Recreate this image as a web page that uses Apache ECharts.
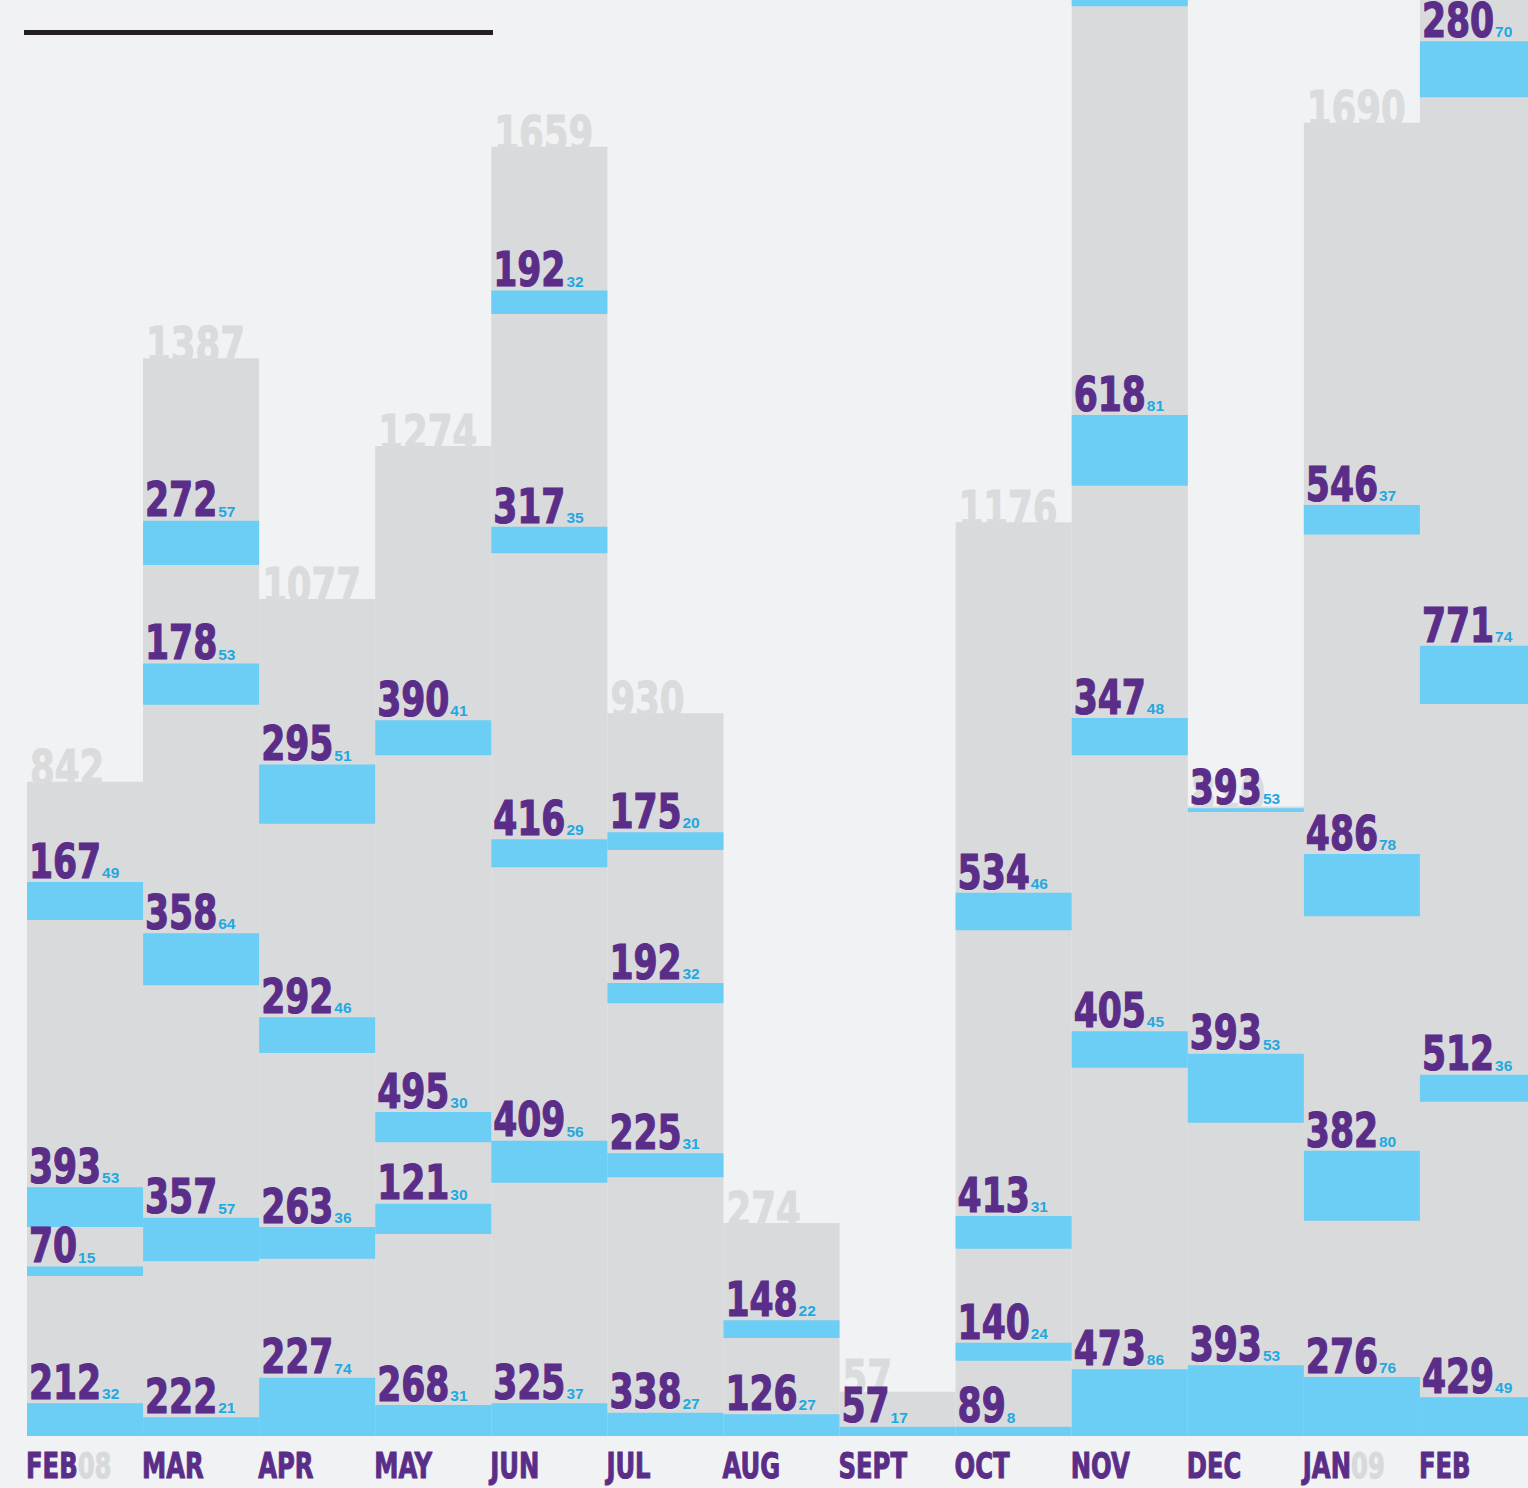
<!DOCTYPE html>
<html>
<head>
<meta charset="utf-8">
<script src="https://cdn.jsdelivr.net/npm/echarts@6/dist/echarts.min.js"></script>
<style>
html,body{margin:0;padding:0;background:#f1f2f4;}
#c{width:1528px;height:1488px;}
</style>
</head>
<body>
<div id="c"></div>
<script>
// ---------------- DATA ----------------
const months   = ['FEB','MAR','APR','MAY','JUN','JUL','AUG','SEPT','OCT','NOV','DEC','JAN','FEB'];
const yearTags = ['08','','','','','','','','','','','09',''];
// column totals (grey bars); NOV and FEB09 run off the top of the picture (estimated)
const totals   = [842,1387,1077,1274,1659,930,274,57,1176,1950,810,1690,2100];
const totalVisible = [true,true,true,true,true,true,true,true,true,false,true,true,false];

// segment values (big purple numbers), bottom to top
const segValues = [
  [212,70,393,167],
  [222,357,358,178,272],
  [227,263,292,295],
  [268,121,495,390],
  [325,409,416,317,192],
  [338,225,192,175],
  [126,148],
  [57],
  [89,140,413,534],
  [473,405,347,618,null],
  [393,393,393],
  [276,382,486,546],
  [429,512,771,280]
];
// small blue numbers
const segSmall = [
  [32,15,53,49],
  [21,57,64,53,57],
  [74,36,46,51],
  [31,30,30,41],
  [37,56,29,35,32],
  [27,31,32,20],
  [27,22],
  [17],
  [8,24,31,46],
  [86,45,48,81,null],
  [53,53,53],
  [76,80,78,37],
  [49,36,74,70]
];
// blue band low / high edges, in value units
const bandLow = [
  [0,206,269,664],
  [0,225,580,941,1121],
  [0,228,493,788],
  [0,260,378,876],
  [0,326,732,1136,1444],
  [0,333,557,754],
  [0,126],
  [0],
  [0,97,241,651],
  [0,474,876,1223,1840],
  [0,403,803],
  [0,277,669,1160],
  [0,430,942,1723]
];
const bandHigh = [
  [42,218,320,713],
  [24,281,647,994,1178],
  [75,269,539,864],
  [40,299,417,921],
  [42,380,768,1170,1474],
  [30,364,583,777],
  [28,149],
  [12],
  [12,120,283,699],
  [86,521,924,1314,1910],
  [91,492,808],
  [76,367,749,1198],
  [50,465,1017,1795]
];

// ---------------- STYLE ----------------
const Y_MAX = 1848;
const BG = '#f1f2f4', GREY = '#d9dadc', BLUE = '#6dcef5', PURPLE = '#5a2d88', CYAN = '#1fa9e1', LABELGREY = '#dadbdd';
const NARROW = '"Liberation Sans Narrow", "Arial Narrow", "DejaVu Sans Condensed", sans-serif';
const WIDE = '"Liberation Sans", Arial, sans-serif';
const BIG_SIZE = 48, SMALL_SIZE = 15.5, TOTAL_SIZE = 50, TICK_SIZE = 36;
const BIG_FONT = 'bold ' + BIG_SIZE + 'px ' + NARROW;
const SMALL_FONT = 'bold ' + SMALL_SIZE + 'px ' + WIDE;
const TOTAL_FONT = 'bold ' + TOTAL_SIZE + 'px ' + NARROW;
const TICK_FONT = 'bold ' + TICK_SIZE + 'px ' + NARROW;
const MID = 0.35;       // baseline offset of text middle, in em
const SX_BIG = 0.80, SX_TOTAL = 0.79, SX_TICK = 0.75; // horizontal condensing

const mctx = document.createElement('canvas').getContext('2d');
function textW(s, font) { mctx.font = font; return mctx.measureText(s).width; }

const categories = months.map((m, i) => m + yearTags[i]);

// flatten segments
const flat = [];
segValues.forEach((arr, i) => {
  arr.forEach((v, k) => {
    flat.push({ i: i, lo: bandLow[i][k], hi: bandHigh[i][k], value: v, small: segSmall[i][k] });
  });
});
const bandData = flat.map(d => [d.i, d.lo, d.hi]);
const totalData = totals.map((t, i) => [i, t]);
const tickData = months.map((m, i) => [i, 0]);

function renderBand(params, api) {
  const i = api.value(0);
  const pLo = api.coord([i, api.value(1)]);
  const pHi = api.coord([i, api.value(2)]);
  const w = api.size([1, 0])[0];
  return {
    type: 'rect',
    shape: { x: pLo[0] - w / 2, y: pHi[1], width: w, height: pLo[1] - pHi[1] },
    style: { fill: BLUE }
  };
}

function renderSegLabel(params, api) {
  const d = flat[params.dataIndex];
  if (d.value == null) return null;
  const i = api.value(0);
  const pHi = api.coord([i, api.value(2)]);
  const w = api.size([1, 0])[0];
  const x0 = pHi[0] - w / 2 + 2;
  const base = pHi[1] - 4;
  const big = String(d.value);
  const bw = textW(big, BIG_FONT) * SX_BIG;
  return {
    type: 'group',
    children: [
      { type: 'text', x: x0, y: base, scaleX: SX_BIG,
        style: { text: big, x: 0, y: -MID * BIG_SIZE, font: BIG_FONT, fill: PURPLE, stroke: PURPLE, lineWidth: 1.2, align: 'left', verticalAlign: 'middle' } },
      { type: 'text', x: x0 + bw + 1, y: base,
        style: { text: String(d.small), x: 0, y: -MID * SMALL_SIZE, font: SMALL_FONT, fill: CYAN, align: 'left', verticalAlign: 'middle' } }
    ]
  };
}

function renderTotal(params, api) {
  const idx = params.dataIndex;
  if (!totalVisible[idx]) return null;
  const p = api.coord([api.value(0), api.value(1)]);
  const w = api.size([1, 0])[0];
  return {
    type: 'text', x: p[0] - w / 2 + 3, y: p[1] + 4, scaleX: SX_TOTAL,
    style: { text: String(totals[idx]), x: 0, y: -MID * TOTAL_SIZE, font: TOTAL_FONT, fill: LABELGREY, stroke: LABELGREY, lineWidth: 1, align: 'left', verticalAlign: 'middle' }
  };
}

function renderTick(params, api) {
  const i = params.dataIndex;
  const p = api.coord([api.value(0), api.value(1)]);
  const w = api.size([1, 0])[0];
  const mw = textW(months[i], TICK_FONT);
  const children = [
    { type: 'text', style: { text: months[i], x: 0, y: -MID * TICK_SIZE, font: TICK_FONT, fill: PURPLE, stroke: PURPLE, lineWidth: 1, align: 'left', verticalAlign: 'middle' } }
  ];
  if (yearTags[i]) {
    children.push({ type: 'text', style: { text: yearTags[i], x: mw, y: -MID * TICK_SIZE, font: TICK_FONT, fill: '#d8d9db', stroke: '#d8d9db', lineWidth: 1, align: 'left', verticalAlign: 'middle' } });
  }
  return { type: 'group', x: p[0] - w / 2 - 1, y: p[1] + 42, scaleX: SX_TICK, children: children };
}

const chart = echarts.init(document.getElementById('c'), null, { renderer: 'svg', width: 1528, height: 1488 });
chart.setOption({
  backgroundColor: BG,
  animation: false,
  grid: { left: 27, top: 0, width: 1509, height: 1436, outerBoundsMode: 'none', containLabel: false },
  xAxis: { type: 'category', data: categories, show: false },
  yAxis: { type: 'value', min: 0, max: Y_MAX, show: false },
  graphic: [
    { type: 'rect', shape: { x: 24, y: 30, width: 469, height: 5 }, style: { fill: '#231f20' } }
  ],
  series: [
    { type: 'bar', data: totals, barWidth: '100%', barCategoryGap: '0%', itemStyle: { color: GREY }, z: 1, silent: true },
    { type: 'custom', data: totalData, renderItem: renderTotal, z: 2, silent: true, clip: false },
    { type: 'custom', data: bandData, renderItem: renderBand, z: 3, silent: true, encode: { x: 0, y: [1, 2] } },
    { type: 'custom', data: bandData, renderItem: renderSegLabel, z: 4, silent: true, encode: { x: 0, y: [1, 2] }, clip: false },
    { type: 'custom', data: tickData, renderItem: renderTick, z: 5, silent: true, clip: false }
  ]
});
</script>
</body>
</html>
